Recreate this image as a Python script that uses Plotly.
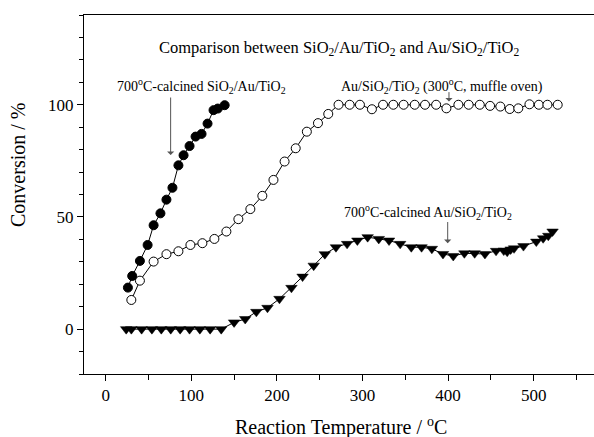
import plotly.graph_objects as go

# Filled circles: 700°C-calcined SiO2/Au/TiO2
t_sat = [26, 31, 40, 49, 56, 64, 71, 78, 85, 91, 98, 105, 112, 119, 126, 131, 139]
c_sat = [18.5, 23.7, 30.4, 37.5, 46.3, 51.6, 57.7, 63, 73, 77.5, 81.6, 85.8, 87, 91.6, 97.6, 98.3, 99.8]

# Open circles: Au/SiO2/TiO2 (300°C, muffle oven)
t_ast = [30, 40, 56, 71, 85, 99, 113, 127, 141, 155, 169, 183, 196, 209, 222, 235, 248, 260,
         272, 285, 297, 311, 324, 336, 348, 361, 373, 386, 398, 412, 424, 437, 449, 461, 472,
         482, 495, 506, 516, 528]
c_ast = [13, 21.6, 30.1, 33.4, 34.7, 37.5, 38.3, 40.2, 43.5, 49, 53.5, 59.4, 66.5, 74.7, 80.6,
         88, 91.8, 95.9, 100, 100, 100, 98, 100, 100, 100, 100, 100, 100, 98.4, 100, 100, 100,
         99.5, 99.2, 98.1, 98.4, 100.2, 100, 100, 100]

# Triangles: 700°C-calcined Au/SiO2/TiO2
t_ast7 = [24, 30, 42, 54, 65, 76, 87, 98, 110, 122, 135, 150, 163, 176, 189, 203, 217, 230, 243,
          256, 269, 282, 294, 306, 319, 331, 344, 357, 369, 381, 394, 406, 419, 431, 443, 456,
          465, 469, 473, 477, 488, 503, 511, 517, 522]
c_ast7 = [0, 0, 0, 0, 0, 0, 0, 0, 0, 0, 0, 3, 4.5, 7.7, 9.5, 13.5, 18.4, 23.4, 28.3, 33.4, 36.5,
          38, 39.5, 41, 40.2, 39.5, 38, 36.5, 36.5, 35.8, 33.5, 32.6, 33.8, 33.8, 33.5, 34.9, 35,
          34.5, 35.5, 36, 37, 39, 40.5, 41.6, 43.5]

x_ticks = [0, 100, 200, 300, 400, 500]
y_ticks = [0, 50, 100]

FONT = "Liberation Serif"

fig = go.Figure()
fig.add_trace(go.Scatter(x=t_ast7, y=c_ast7, mode="lines+markers",
                         line=dict(color="black", width=1),
                         marker=dict(symbol="triangle-down", size=10, color="black",
                                     line=dict(color="black", width=0.5))))
fig.add_trace(go.Scatter(x=t_ast, y=c_ast, mode="lines+markers",
                         line=dict(color="black", width=1),
                         marker=dict(symbol="circle", size=9, color="white",
                                     line=dict(color="black", width=1))))
fig.add_trace(go.Scatter(x=t_sat, y=c_sat, mode="lines+markers",
                         line=dict(color="black", width=1),
                         marker=dict(symbol="circle", size=9, color="black",
                                     line=dict(color="black", width=1))))

plot_w = 594 - 84
plot_h = 437 - 15 - 63

ann = []
ann.append(dict(x=272.5, y=125.3, xref="x", yref="y", showarrow=False,
                text="Comparison between SiO<sub>2</sub>/Au/TiO<sub>2</sub> and Au/SiO<sub>2</sub>/TiO<sub>2</sub>",
                font=dict(family=FONT, size=16.5, color="black")))
ann.append(dict(x=112, y=108.4, xref="x", yref="y", showarrow=False,
                text="700<sup>o</sup>C-calcined SiO<sub>2</sub>/Au/TiO<sub>2</sub>",
                font=dict(family=FONT, size=14, color="black")))
ann.append(dict(x=393.2, y=108.4, xref="x", yref="y", showarrow=False,
                text="Au/SiO<sub>2</sub>/TiO<sub>2</sub> (300<sup>o</sup>C, muffle oven)",
                font=dict(family=FONT, size=14, color="black")))
ann.append(dict(x=376.5, y=52.1, xref="x", yref="y", showarrow=False,
                text="700<sup>o</sup>C-calcined Au/SiO<sub>2</sub>/TiO<sub>2</sub>",
                font=dict(family=FONT, size=14, color="black")))
# arrows
for (x, yh, yt) in [(75.9, 77.6, 103.9), (401, 101.4, 106.3), (399.5, 38.3, 48.4)]:
    ann.append(dict(x=x, y=yh, ax=x, ay=yt, xref="x", yref="y", axref="x", ayref="y",
                    text="", showarrow=True, arrowhead=1, arrowsize=1.2, arrowwidth=1,
                    arrowcolor="#555555"))
# axis titles
ann.append(dict(x=(341 - 84) / plot_w, y=-(426.7 - 374) / plot_h, xref="paper", yref="paper",
                showarrow=False, xanchor="center", yanchor="middle",
                text="Reaction Temperature / <sup>o</sup>C",
                font=dict(family=FONT, size=20, color="black")))
ann.append(dict(x=(18 - 84) / plot_w, y=(374 - 165) / plot_h, xref="paper", yref="paper",
                showarrow=False, xanchor="center", yanchor="middle",
                text="Conversion / %", textangle=-90,
                font=dict(family=FONT, size=20, color="black")))

fig.update_layout(
    width=594, height=437,
    margin=dict(l=84, r=0, t=15, b=63),
    paper_bgcolor="white", plot_bgcolor="white",
    showlegend=False,
    annotations=ann,
    font=dict(family=FONT, color="black"),
)

fig.update_xaxes(range=[-25.3, 570.4], tickvals=x_ticks, ticktext=[str(v) for v in x_ticks],
                 showline=True, linecolor="black", linewidth=1, mirror=True,
                 ticks="outside", ticklen=6, tickcolor="black", tickwidth=1,
                 minor=dict(dtick=50, tick0=0, ticks="outside", ticklen=5, tickcolor="black"),
                 showgrid=False, zeroline=False,
                 tickfont=dict(family=FONT, size=17, color="black"))
fig.update_yaxes(range=[-20, 140], tickvals=y_ticks, ticktext=[str(v) for v in y_ticks],
                 showline=True, linecolor="black", linewidth=1, mirror=False,
                 ticks="outside", ticklen=6, tickcolor="black", tickwidth=1,
                 minor=dict(dtick=10, tick0=0, ticks="outside", ticklen=4, tickcolor="black"),
                 showgrid=False, zeroline=False,
                 tickfont=dict(family=FONT, size=17, color="black"))

fig.write_html("out.html")
